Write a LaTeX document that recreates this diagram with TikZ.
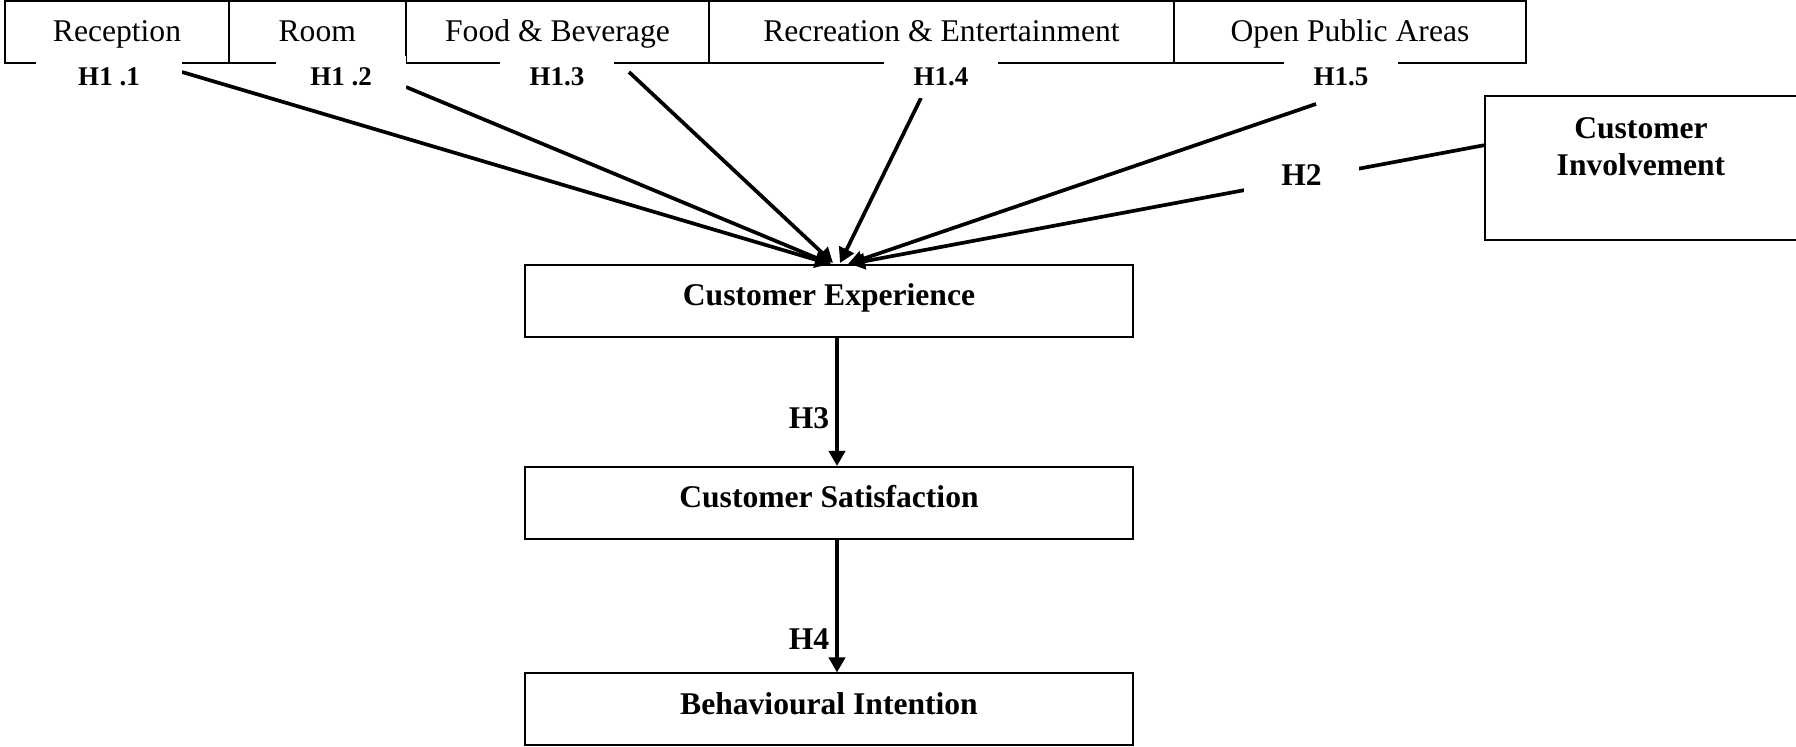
\documentclass[tikz,border=0pt]{standalone}
\usepackage{fontspec}
\setmainfont{Liberation Serif}
\usetikzlibrary{arrows.meta,calc}
\tikzset{
  topbox/.style={draw, line width=1pt, minimum height=31pt, inner sep=0pt, text height=10.5pt, text depth=1.1pt, font=\fontsize{15.8}{19}\selectfont},
  hlabel/.style={fill=white, inner sep=0pt, minimum height=21pt, font=\fontsize{13.5}{16}\selectfont\bfseries},
  mainbox/.style={draw, line width=1pt, minimum width=304pt, minimum height=36pt, inner sep=0pt, text height=10.5pt, text depth=5.7pt, font=\fontsize{15.8}{19}\selectfont\bfseries},
  blabel/.style={inner sep=0pt, font=\fontsize{15.8}{18.5}\selectfont\bfseries},
  hyp/.style={line width=1.85pt, -{Triangle[width=8pt,length=7.5pt]}},
}
\begin{document}
\begin{tikzpicture}[x=0.5pt, y=-0.5pt]
\useasboundingbox (0,0) rectangle (1796,747);
% top row
\node[topbox, minimum width=112pt] (rec) at (117,32) {Reception};
\node[topbox, minimum width=88.25pt] (room) at (317.25,32) {Room};
\node[topbox, minimum width=151.5pt] (food) at (557.5,32) {Food \& Beverage};
\node[topbox, minimum width=232.5pt] (recr) at (941.5,32) {Recreation \& Entertainment};
\node[topbox, minimum width=176pt] (opa) at (1350,32) {Open Public Areas};
% main boxes
\node[mainbox] (ce) at (829,301) {Customer Experience};
\node[mainbox] (cs) at (829,503) {Customer Satisfaction};
\node[mainbox] (bi) at (829,709.5) {Behavioural Intention};
% customer involvement
\node[draw, line width=1pt, minimum width=157.5pt, minimum height=72.25pt, inner sep=0pt] (ci) at (1642.5,168.25) {};
\node[blabel, align=center] (citxt) at (1641,146.5) {Customer\\Involvement};
% arrow starts
\coordinate (s11) at (182,72);
\coordinate (s12) at (406,87);
\coordinate (s13) at (629,72);
\coordinate (s14) at (921,98);
\coordinate (s15) at (1316,104);
% arrows into customer experience
\draw[hyp] (s11) -- ($(ce.north)+(1,0)$);
\draw[hyp] (s12) -- ($(ce.north)+(2,0)$);
\draw[hyp] (s13) -- ($(ce.north)+(4,-1)$);
\draw[hyp] (s14) -- ($(ce.north)+(11,-1)$);
\draw[hyp] (s15) -- ($(ce.north)+(19,0)$);
\draw[hyp] ($(ci.west)+(0,-23)$) -- ($(ce.north)+(21,0)$);
% labels (white, covering lines)
\node[hlabel, minimum width=73pt] (l11) at (109,77) {H1 .1};
\node[hlabel, minimum width=65pt] (l12) at (341,77) {H1 .2};
\node[hlabel, minimum width=57pt] (l13) at (557,77) {H1.3};
\node[hlabel, minimum width=57pt] (l14) at (941,77) {H1.4};
\node[hlabel, minimum width=57pt] (l15) at (1341,77) {H1.5};
\node[blabel, fill=white, minimum width=57.5pt, minimum height=18pt] (h2) at (1301.5,175) {H2};
% vertical arrows
\draw[hyp] ($(ce.south)+(8,0)$) -- ($(cs.north)+(8,0)$);
\draw[hyp] ($(cs.south)+(8,0)$) -- ($(bi.north)+(8,0)$);
\node[blabel] (h3) at (809,418) {H3};
\node[blabel] (h4) at (809,639) {H4};
\end{tikzpicture}
\end{document}
